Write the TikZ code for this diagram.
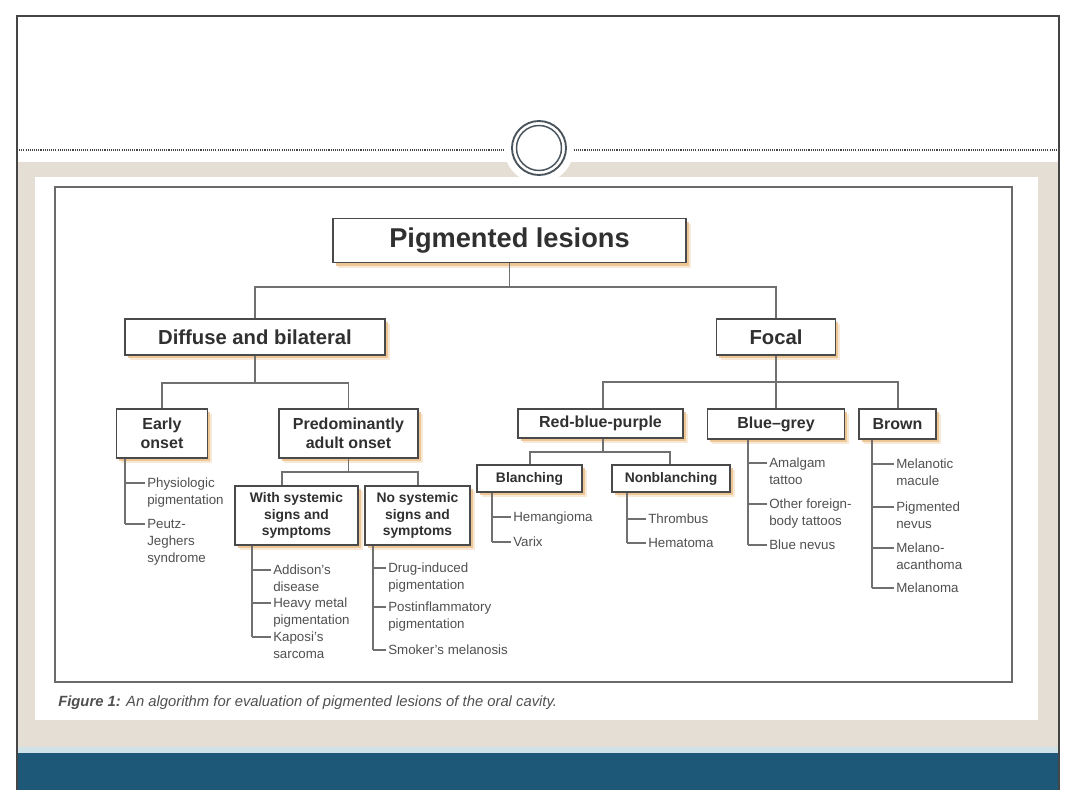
\documentclass[tikz,border=0pt]{standalone}
\usepackage{fontspec}
\setmainfont{Liberation Sans}
\usetikzlibrary{shadows}
\definecolor{beige}{HTML}{E4DED4}
\definecolor{stripc}{HTML}{CFE2E8}
\definecolor{barc}{HTML}{1E5878}
\definecolor{framec}{HTML}{454545}
\definecolor{figframe}{HTML}{6A6A6A}
\definecolor{ringc}{HTML}{4A545C}
\definecolor{boxline}{HTML}{4A4A4A}
\definecolor{boxtext}{HTML}{303030}
\definecolor{shadowc}{HTML}{EDC390}
\definecolor{connc}{HTML}{707070}
\definecolor{leaftext}{HTML}{505050}
\definecolor{captc}{HTML}{505050}
\begin{document}
\begin{tikzpicture}[x=0.75pt,y=-0.75pt,
  box/.style={draw=boxline, line width=1.1pt, fill=white, align=center, inner sep=0pt, text=boxtext,
    drop shadow={shadow xshift=3.5pt, shadow yshift=-4pt, fill=shadowc!70, opacity=0.5},
    drop shadow={shadow xshift=2.2pt, shadow yshift=-2.6pt, fill=shadowc, opacity=0.9}},
  bx/.style 2 args={minimum width=#1*0.75pt, minimum height=#2*0.75pt},
  conn/.style={draw=connc, line width=0.8pt},
  leaf/.style={anchor=north west, inner sep=0pt, inner xsep=1.5pt, align=left, text=leaftext,
    font=\fontsize{10}{12.75}\selectfont},
  f20/.style={font=\fontsize{20.4}{24}\selectfont\bfseries},
  f15/.style={font=\fontsize{15.2}{18}\selectfont\bfseries},
  f12/.style={font=\fontsize{12}{14.3}\selectfont\bfseries},
  f10/.style={font=\fontsize{10.4}{12.4}\selectfont\bfseries},
]
\useasboundingbox (0,0) rectangle (1080,810);
\fill[white] (0,0) rectangle (1080,810);
% slide background
\fill[beige] (17,162) rectangle (1059,753);
\fill[stripc] (17,747) rectangle (1059,753);
\fill[barc] (17,753) rectangle (1059,790);
\fill[white] (35,177) rectangle (1038,720);
\draw[framec, line width=0.8pt] (17,790) -- (17,16) -- (1059,16) -- (1059,790);
\draw[framec, line width=0.9pt, dash pattern=on 0.8pt off 0.8pt] (17,150) -- (1059,150);
\fill[white] (539,148) circle (35);
\draw[ringc, line width=1.4pt] (539,148) circle (27);
\draw[ringc, line width=1.1pt] (539,148) circle (22.5);
% figure frame
\draw[figframe, line width=1.2pt] (55,187) rectangle (1012,682);

% boxes
\node[box, f20, bx={353}{44}] (root) at (509.5,240.5) {Pigmented lesions};
\node[box, f15, bx={260}{36}] (diffuse) at (255,337) {Diffuse and bilateral};
\node[box, f15, bx={119}{36}] (focal) at (776,337) {Focal};
\node[box, f12, bx={91}{49}] (early) at (162,433.5) {Early\\onset};
\node[box, f12, bx={139}{49}] (adult) at (348.5,433.5) {Predominantly\\adult onset};
\node[box, f10, bx={123}{59}] (with) at (296.5,515.5) {With systemic\\signs and\\symptoms};
\node[box, f10, bx={105}{59}] (nosys) at (417.5,515.5) {No systemic\\signs and\\symptoms};
\node[box, f12, bx={165}{29}] (rbp) at (600.5,423.5) {Red-blue-purple};
\node[box, f12, bx={137}{30}] (bluegrey) at (776,424) {Blue--grey};
\node[box, f12, bx={77}{30}] (brown) at (897.5,424) {Brown};
\node[box, f10, bx={105}{27}] (blanch) at (529.5,478.5) {Blanching};
\node[box, f10, bx={118}{27}] (nonblanch) at (671,478.5) {Nonblanching};

% tree connectors
\coordinate (j1) at (509.5,287);
\draw[conn] (root.south) -- (j1);
\draw[conn] (diffuse.north) |- (j1) -| (focal.north);
\coordinate (j2) at (255,383);
\draw[conn] (diffuse.south) -- (j2);
\draw[conn] (early.north) |- (j2) -| (adult.north);
\coordinate (j3l) at (282,472);
\coordinate (j3r) at (418,472);
\draw[conn] (adult.south) -- (adult.south |- j3l);
\draw[conn] (j3l |- with.north) -- (j3l) -- (j3r) -- (j3r |- nosys.north);
\coordinate (j4l) at (603,382);
\coordinate (j4r) at (898,382);
\draw[conn] (focal.south) -- (focal.south |- j4l);
\draw[conn] (j4l |- rbp.north) -- (j4l) -- (j4r) -- (j4r |- brown.north);
\draw[conn] (bluegrey.north) -- (bluegrey.north |- j4l);
\coordinate (j5l) at (530,452);
\coordinate (j5r) at (670,452);
\draw[conn] (j4l |- rbp.south) -- (j4l |- j5l);
\draw[conn] (j5l |- blanch.north) -- (j5l) -- (j5r) -- (j5r |- nonblanch.north);

% leaves: early onset
\coordinate (e1) at (125,483); \coordinate (e2) at (125,524);
\draw[conn] (e2 |- early.south) -- (e2);
\node[leaf] (le1) at ([shift={(20,-5)}]e1) {Physiologic\\pigmentation};
\node[leaf] (le2) at ([shift={(20,-5)}]e2) {Peutz-\\Jeghers\\syndrome};
\draw[conn] (e1) -- (le1.west |- e1);
\draw[conn] (e2) -- (le2.west |- e2);

% leaves: with systemic
\coordinate (w1) at (252,570); \coordinate (w2) at (252,603); \coordinate (w3) at (252,637);
\draw[conn] (w3 |- with.south) -- (w3);
\node[leaf] (lw1) at ([shift={(19,-5)}]w1) {Addison's\\disease};
\node[leaf] (lw2) at ([shift={(19,-5)}]w2) {Heavy metal\\pigmentation};
\node[leaf] (lw3) at ([shift={(19,-5)}]w3) {Kaposi's\\sarcoma};
\draw[conn] (w1) -- (lw1.west |- w1);
\draw[conn] (w2) -- (lw2.west |- w2);
\draw[conn] (w3) -- (lw3.west |- w3);

% leaves: no systemic
\coordinate (n1) at (373,568); \coordinate (n2) at (373,607); \coordinate (n3) at (373,650);
\draw[conn] (n3 |- nosys.south) -- (n3);
\node[leaf] (ln1) at ([shift={(13,-5)}]n1) {Drug-induced\\pigmentation};
\node[leaf] (ln2) at ([shift={(13,-5)}]n2) {Postinflammatory\\pigmentation};
\node[leaf] (ln3) at ([shift={(13,-5)}]n3) {Smoker's melanosis};
\draw[conn] (n1) -- (ln1.west |- n1);
\draw[conn] (n2) -- (ln2.west |- n2);
\draw[conn] (n3) -- (ln3.west |- n3);

% leaves: blanching
\coordinate (b1) at (492,517); \coordinate (b2) at (492,542);
\draw[conn] (b2 |- blanch.south) -- (b2);
\node[leaf] (lb1) at ([shift={(19,-5)}]b1) {Hemangioma};
\node[leaf] (lb2) at ([shift={(19,-5)}]b2) {Varix};
\draw[conn] (b1) -- (lb1.west |- b1);
\draw[conn] (b2) -- (lb2.west |- b2);

% leaves: nonblanching
\coordinate (o1) at (627,519); \coordinate (o2) at (627,543);
\draw[conn] (o2 |- nonblanch.south) -- (o2);
\node[leaf] (lo1) at ([shift={(19,-5)}]o1) {Thrombus};
\node[leaf] (lo2) at ([shift={(19,-5)}]o2) {Hematoma};
\draw[conn] (o1) -- (lo1.west |- o1);
\draw[conn] (o2) -- (lo2.west |- o2);

% leaves: blue-grey
\coordinate (g1) at (748,463); \coordinate (g2) at (748,504); \coordinate (g3) at (748,545);
\draw[conn] (g3 |- bluegrey.south) -- (g3);
\node[leaf] (lg1) at ([shift={(19,-5)}]g1) {Amalgam\\tattoo};
\node[leaf] (lg2) at ([shift={(19,-5)}]g2) {Other foreign-\\body tattoos};
\node[leaf] (lg3) at ([shift={(19,-5)}]g3) {Blue nevus};
\draw[conn] (g1) -- (lg1.west |- g1);
\draw[conn] (g2) -- (lg2.west |- g2);
\draw[conn] (g3) -- (lg3.west |- g3);

% leaves: brown
\coordinate (r1) at (872,464); \coordinate (r2) at (872,507); \coordinate (r3) at (872,548); \coordinate (r4) at (872,588);
\draw[conn] (r4 |- brown.south) -- (r4);
\node[leaf] (lr1) at ([shift={(22,-5)}]r1) {Melanotic\\macule};
\node[leaf] (lr2) at ([shift={(22,-5)}]r2) {Pigmented\\nevus};
\node[leaf] (lr3) at ([shift={(22,-5)}]r3) {Melano-\\acanthoma};
\node[leaf] (lr4) at ([shift={(22,-5)}]r4) {Melanoma};
\draw[conn] (r1) -- (lr1.west |- r1);
\draw[conn] (r2) -- (lr2.west |- r2);
\draw[conn] (r3) -- (lr3.west |- r3);
\draw[conn] (r4) -- (lr4.west |- r4);

% caption
\node[anchor=west, inner sep=0pt, text=captc, font=\fontsize{11.1}{13}\selectfont\itshape] (cap) at (58,703)
  {\textbf{Figure 1:} An algorithm for evaluation of pigmented lesions of the oral cavity.};
\end{tikzpicture}
\end{document}
